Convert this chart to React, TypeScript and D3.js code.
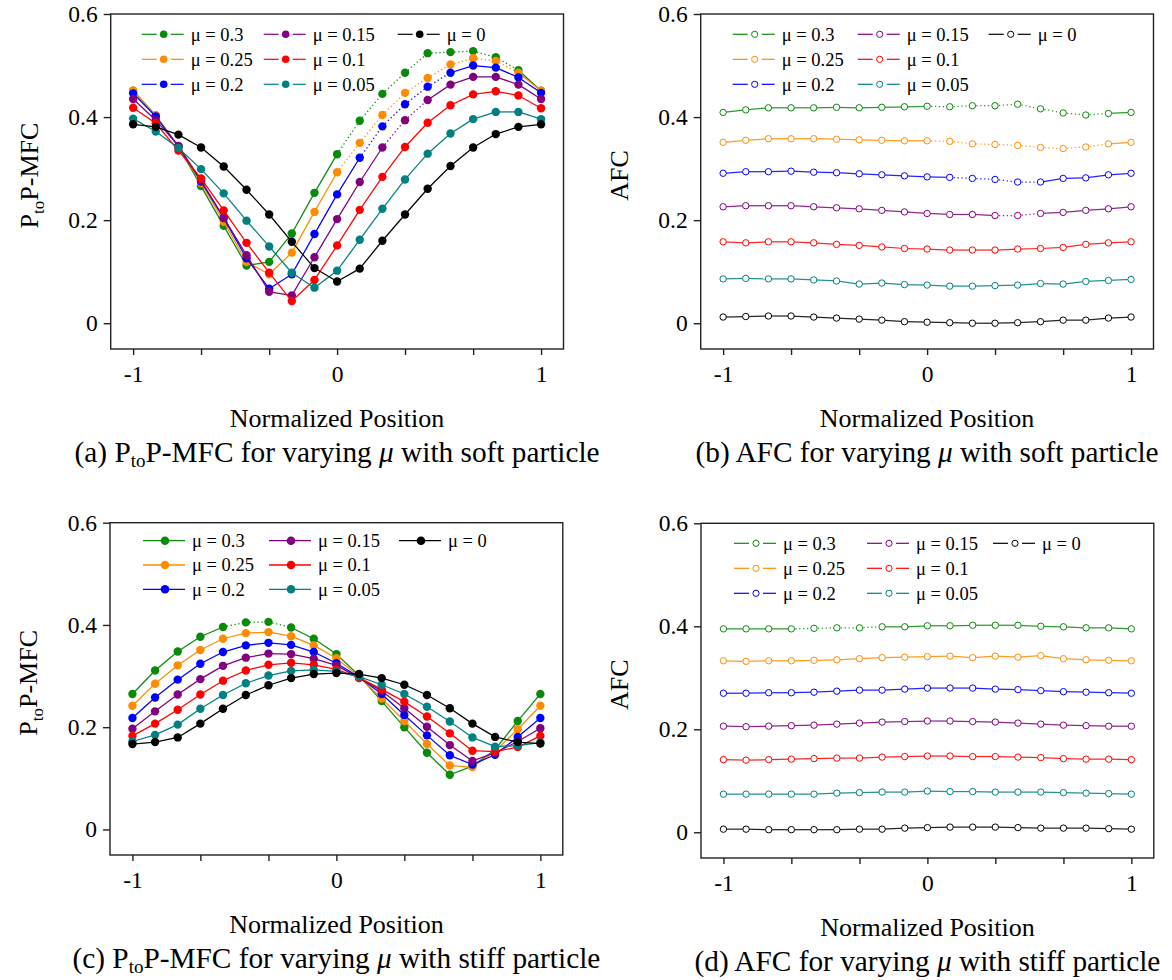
import React, { useEffect, useRef } from 'react';
import * as d3 from 'd3';

// normalized positions along the particle path (19 samples, step 1/9)
const positions = [-1, -0.889, -0.778, -0.667, -0.556, -0.444, -0.333, -0.222, -0.111, 0,
    0.111, 0.222, 0.333, 0.444, 0.556, 0.667, 0.778, 0.889, 1];

const muLabels = ['μ = 0.3', 'μ = 0.25', 'μ = 0.2', 'μ = 0.15', 'μ = 0.1', 'μ = 0.05', 'μ = 0'];
const muColors = ['#0a8a0a', '#ff8c00', '#0000ff', '#800080', '#ff0000', '#008080', '#000000'];

const xTicks = [-1, -0.667, -0.333, 0, 0.333, 0.667, 1];
const xTickLabels = ['-1', '', '', '0', '', '', '1'];
const yTicks = [0, 0.2, 0.4, 0.6];
const yTickLabels = ['0', '0.2', '0.4', '0.6'];

// (a) PtoP-MFC, soft particle, rows in order of muLabels
const mfcSoft = [
    [0.451, 0.403, 0.343, 0.266, 0.189, 0.112, 0.119, 0.174, 0.253, 0.328, 0.393, 0.445, 0.486, 0.524, 0.526, 0.528, 0.516, 0.491, 0.451],
    [0.451, 0.403, 0.343, 0.272, 0.197, 0.119, 0.095, 0.137, 0.216, 0.293, 0.350, 0.404, 0.447, 0.476, 0.502, 0.514, 0.509, 0.486, 0.451],
    [0.446, 0.401, 0.343, 0.275, 0.204, 0.126, 0.067, 0.095, 0.173, 0.250, 0.321, 0.382, 0.425, 0.459, 0.486, 0.500, 0.496, 0.477, 0.447],
    [0.435, 0.394, 0.344, 0.277, 0.205, 0.132, 0.061, 0.054, 0.128, 0.202, 0.274, 0.341, 0.394, 0.433, 0.463, 0.478, 0.478, 0.463, 0.435],
    [0.418, 0.388, 0.335, 0.281, 0.219, 0.156, 0.098, 0.043, 0.084, 0.151, 0.220, 0.284, 0.342, 0.389, 0.423, 0.444, 0.450, 0.442, 0.417],
    [0.397, 0.372, 0.340, 0.299, 0.252, 0.199, 0.149, 0.098, 0.069, 0.102, 0.162, 0.222, 0.279, 0.329, 0.368, 0.396, 0.410, 0.410, 0.396],
    [0.386, 0.381, 0.366, 0.341, 0.304, 0.259, 0.211, 0.158, 0.107, 0.081, 0.106, 0.160, 0.211, 0.261, 0.305, 0.341, 0.367, 0.381, 0.386],
];

// (b) AFC, soft particle
const afcSoft = [
    [0.409, 0.414, 0.418, 0.418, 0.418, 0.419, 0.418, 0.419, 0.420, 0.421, 0.420, 0.422, 0.422, 0.425, 0.416, 0.408, 0.404, 0.407, 0.409],
    [0.351, 0.355, 0.358, 0.358, 0.358, 0.357, 0.356, 0.355, 0.354, 0.354, 0.353, 0.348, 0.347, 0.345, 0.341, 0.339, 0.342, 0.348, 0.351],
    [0.291, 0.294, 0.294, 0.295, 0.293, 0.292, 0.290, 0.288, 0.286, 0.284, 0.283, 0.281, 0.279, 0.274, 0.274, 0.281, 0.282, 0.288, 0.291],
    [0.226, 0.228, 0.228, 0.228, 0.226, 0.224, 0.222, 0.219, 0.216, 0.213, 0.211, 0.211, 0.209, 0.209, 0.213, 0.215, 0.219, 0.222, 0.226],
    [0.158, 0.156, 0.158, 0.158, 0.156, 0.153, 0.151, 0.148, 0.145, 0.144, 0.142, 0.142, 0.142, 0.144, 0.145, 0.147, 0.153, 0.156, 0.158],
    [0.086, 0.087, 0.086, 0.086, 0.084, 0.082, 0.076, 0.078, 0.075, 0.074, 0.072, 0.072, 0.073, 0.074, 0.077, 0.076, 0.081, 0.083, 0.085],
    [0.012, 0.013, 0.014, 0.014, 0.012, 0.010, 0.008, 0.006, 0.003, 0.002, 0.001, 0.000, 0.000, 0.001, 0.003, 0.006, 0.006, 0.010, 0.012],
];

// (c) PtoP-MFC, stiff particle
const mfcStiff = [
    [0.265, 0.311, 0.348, 0.377, 0.396, 0.405, 0.406, 0.395, 0.373, 0.343, 0.301, 0.251, 0.200, 0.150, 0.107, 0.124, 0.156, 0.212, 0.265],
    [0.242, 0.285, 0.321, 0.351, 0.373, 0.384, 0.386, 0.378, 0.360, 0.335, 0.299, 0.256, 0.212, 0.167, 0.125, 0.122, 0.153, 0.196, 0.242],
    [0.218, 0.258, 0.293, 0.324, 0.347, 0.360, 0.365, 0.361, 0.347, 0.325, 0.298, 0.265, 0.224, 0.184, 0.145, 0.127, 0.146, 0.181, 0.218],
    [0.197, 0.231, 0.264, 0.294, 0.320, 0.336, 0.344, 0.343, 0.334, 0.321, 0.296, 0.271, 0.237, 0.201, 0.165, 0.134, 0.150, 0.172, 0.198],
    [0.183, 0.207, 0.234, 0.264, 0.291, 0.311, 0.322, 0.326, 0.322, 0.313, 0.297, 0.274, 0.250, 0.221, 0.188, 0.154, 0.152, 0.161, 0.183],
    [0.172, 0.185, 0.205, 0.236, 0.263, 0.286, 0.301, 0.310, 0.312, 0.309, 0.299, 0.283, 0.265, 0.240, 0.211, 0.180, 0.162, 0.164, 0.170],
    [0.167, 0.171, 0.180, 0.207, 0.236, 0.263, 0.282, 0.296, 0.304, 0.306, 0.304, 0.296, 0.283, 0.263, 0.237, 0.207, 0.181, 0.171, 0.168],
];

// (d) AFC, stiff particle
const afcStiff = [
    [0.395, 0.395, 0.395, 0.395, 0.396, 0.397, 0.397, 0.399, 0.399, 0.401, 0.401, 0.402, 0.402, 0.402, 0.400, 0.399, 0.397, 0.397, 0.395],
    [0.333, 0.332, 0.333, 0.333, 0.334, 0.335, 0.337, 0.339, 0.340, 0.341, 0.342, 0.339, 0.342, 0.340, 0.343, 0.337, 0.335, 0.334, 0.333],
    [0.270, 0.270, 0.271, 0.271, 0.272, 0.274, 0.276, 0.276, 0.278, 0.280, 0.280, 0.280, 0.278, 0.277, 0.275, 0.273, 0.272, 0.271, 0.270],
    [0.206, 0.205, 0.206, 0.207, 0.208, 0.210, 0.212, 0.214, 0.215, 0.216, 0.216, 0.215, 0.214, 0.212, 0.210, 0.208, 0.207, 0.206, 0.206],
    [0.141, 0.140, 0.141, 0.142, 0.143, 0.144, 0.144, 0.146, 0.147, 0.148, 0.148, 0.147, 0.147, 0.146, 0.145, 0.143, 0.142, 0.142, 0.141],
    [0.074, 0.074, 0.074, 0.074, 0.074, 0.076, 0.077, 0.078, 0.078, 0.080, 0.079, 0.079, 0.078, 0.078, 0.078, 0.077, 0.076, 0.075, 0.074],
    [0.006, 0.006, 0.005, 0.005, 0.005, 0.005, 0.006, 0.006, 0.008, 0.009, 0.010, 0.010, 0.010, 0.009, 0.008, 0.008, 0.008, 0.007, 0.006],
];

// index ranges [from, to] where the original plot shows a dotted connector
const dottedMfcSoft = [[9, 17], [9, 17], [10, 14], [11, 13], null, null, null];
const dottedAfcSoft = [[9, 17], [9, 17], [10, 14], [12, 14], null, null, null];
const dottedMfcStiff = [[4, 7], null, null, null, null, null, null];
const dottedAfcStiff = [[3, 7], null, null, null, null, null, null];

const FONT = '"Liberation Serif", "Times New Roman", serif';

export default function App() {
    const ref = useRef<SVGSVGElement>(null);

    useEffect(() => {
        document.body.style.margin = '0';
        makeChart();
    }, []);

    const makeChart = () => {
        const svg = d3.select(ref.current);
        svg.selectAll('*').remove();

        const panels = [
            { tag: '(a)', kind: 'mfc', part: 'soft', data: mfcSoft, dotted: dottedMfcSoft, filled: true, left: 110.7, top: 14, bottom: 349, legTop: 20.3, legRow: 25, cols: [31, 153, 287], gap: true },
            { tag: '(b)', kind: 'afc', part: 'soft', data: afcSoft, dotted: dottedAfcSoft, filled: false, left: 700.7, top: 14, bottom: 349, legTop: 20.3, legRow: 25, cols: [32, 157, 288], gap: true },
            { tag: '(c)', kind: 'mfc', part: 'stiff', data: mfcStiff, dotted: dottedMfcStiff, filled: true, left: 110, top: 522.7, bottom: 855, legTop: 18, legRow: 24.3, cols: [33, 159, 289], gap: false },
            { tag: '(d)', kind: 'afc', part: 'stiff', data: afcStiff, dotted: dottedAfcStiff, filled: false, left: 701, top: 523.3, bottom: 858, legTop: 20, legRow: 25, cols: [33, 166, 292], gap: true },
        ];

        const width = 452.8;

        panels.forEach((p) => {
            const x = d3.scaleLinear().domain([-1.11, 1.11]).range([p.left, p.left + width]);
            const y = d3.scaleLinear().domain([-0.05, 0.6]).range([p.bottom, p.top]);
            const g = svg.append('g');
            const cx = p.left + width / 2;

            // frame
            g.append('rect')
                .attr('x', p.left).attr('y', p.top)
                .attr('width', width).attr('height', p.bottom - p.top)
                .attr('fill', 'none').attr('stroke', '#222').attr('stroke-width', 1.4);

            // x axis
            const xAxis = g.append('g')
                .attr('transform', 'translate(0,' + p.bottom + ')')
                .call(d3.axisBottom(x).tickValues(xTicks).tickSize(6).tickPadding(10)
                    .tickFormat((d, i) => xTickLabels[i]));
            xAxis.select('.domain').remove();
            xAxis.selectAll('line').attr('stroke', '#222').attr('stroke-width', 1.4);
            xAxis.selectAll('text').attr('font-family', FONT).attr('font-size', 23.5).attr('fill', '#000');

            // y axis
            const yAxis = g.append('g')
                .attr('transform', 'translate(' + p.left + ',0)')
                .call(d3.axisLeft(y).tickValues(yTicks).tickSize(7).tickPadding(6)
                    .tickFormat((d, i) => yTickLabels[i]));
            yAxis.select('.domain').remove();
            yAxis.selectAll('line').attr('stroke', '#222').attr('stroke-width', 1.4);
            yAxis.selectAll('text').attr('font-family', FONT).attr('font-size', 23.5).attr('fill', '#000');

            // axis titles
            g.append('text')
                .attr('x', cx).attr('y', p.bottom + 78)
                .attr('text-anchor', 'middle')
                .attr('font-family', FONT).attr('font-size', 26).attr('fill', '#000')
                .text('Normalized Position');

            const yl = g.append('text')
                .attr('transform', 'translate(' + (p.left - 73) + ',' + ((p.top + p.bottom) / 2 - 6) + ') rotate(-90)')
                .attr('text-anchor', 'middle')
                .attr('font-family', FONT).attr('font-size', 26).attr('fill', '#000');
            if (p.kind === 'mfc') {
                yl.append('tspan').text('P');
                yl.append('tspan').attr('font-size', 17).attr('dy', 6).text('to');
                yl.append('tspan').attr('dy', -6).text('P-MFC');
            } else {
                yl.text('AFC');
            }

            // caption
            const cap = g.append('text')
                .attr('x', cx).attr('y', p.bottom + 113)
                .attr('text-anchor', 'middle')
                .attr('font-family', FONT).attr('font-size', 29.3).attr('fill', '#000');
            if (p.kind === 'mfc') {
                cap.append('tspan').text(p.tag + ' P');
                cap.append('tspan').attr('font-size', 19).attr('dy', 5).text('to');
                cap.append('tspan').attr('dy', -5).text('P-MFC for varying ');
            } else {
                cap.append('tspan').text(p.tag + ' AFC for varying ');
            }
            cap.append('tspan').attr('font-style', 'italic').text('μ');
            cap.append('tspan').text(' with ' + p.part + ' particle');

            // series, drawn from mu = 0.3 down to mu = 0
            p.data.forEach((vals, si) => {
                const color = muColors[si];
                const dots = p.dotted[si];
                for (let j = 0; j < vals.length - 1; j++) {
                    const isDot = dots && j >= dots[0] && j < dots[1];
                    g.append('line')
                        .attr('x1', x(positions[j])).attr('y1', y(vals[j]))
                        .attr('x2', x(positions[j + 1])).attr('y2', y(vals[j + 1]))
                        .attr('stroke', color)
                        .attr('stroke-width', 1.25)
                        .attr('stroke-dasharray', isDot ? '1.3,2.6' : null)
                        .attr('opacity', p.filled ? 1 : 0.85);
                }
                g.selectAll(null)
                    .data(vals)
                    .enter()
                    .append('circle')
                    .attr('cx', (d, i) => x(positions[i]))
                    .attr('cy', (d) => y(d))
                    .attr('r', p.filled ? 4.2 : 3.2)
                    .attr('fill', p.filled ? color : '#fff')
                    .attr('stroke', p.filled ? 'none' : color)
                    .attr('stroke-width', 1);
            });

            // legend
            muLabels.forEach((lab, si) => {
                const col = Math.floor(si / 3);
                const row = si % 3;
                const lx = p.left + p.cols[col];
                const ly = p.top + p.legTop + row * p.legRow;
                const color = muColors[si];
                if (p.gap) {
                    g.append('line').attr('x1', lx).attr('x2', lx + 15).attr('y1', ly).attr('y2', ly)
                        .attr('stroke', color).attr('stroke-width', 1.2);
                    g.append('line').attr('x1', lx + 29).attr('x2', lx + 42).attr('y1', ly).attr('y2', ly)
                        .attr('stroke', color).attr('stroke-width', 1.2);
                } else {
                    g.append('line').attr('x1', lx).attr('x2', lx + 42).attr('y1', ly).attr('y2', ly)
                        .attr('stroke', color).attr('stroke-width', 1.3);
                }
                g.append('circle')
                    .attr('cx', lx + 22).attr('cy', ly)
                    .attr('r', p.filled ? (p.gap ? 3.8 : 4.3) : 3.1)
                    .attr('fill', p.filled ? color : '#fff')
                    .attr('stroke', p.filled ? 'none' : color)
                    .attr('stroke-width', 1);
                g.append('text')
                    .attr('x', lx + 49).attr('y', ly)
                    .attr('dy', '0.35em')
                    .attr('font-family', FONT).attr('font-size', 18.5).attr('fill', '#000')
                    .text(lab);
            });
        });
    };

    return (
        <svg ref={ref} width={1172} height={980} style={{ display: 'block', background: '#fff' }} />
    );
}
